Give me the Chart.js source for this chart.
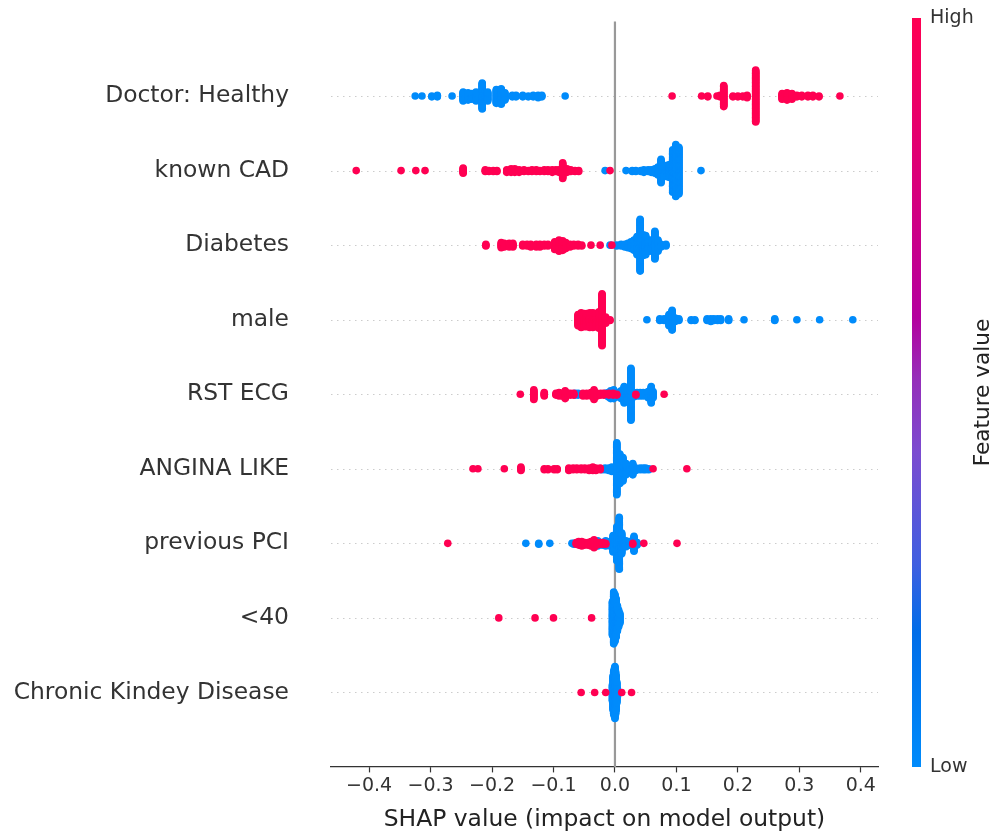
<!DOCTYPE html>
<html>
<head>
<meta charset="utf-8">
<script src="https://cdn.jsdelivr.net/npm/chart.js@4.4.1/dist/chart.umd.min.js"></script>
<style>
  html, body { margin: 0; padding: 0; background: #fff; }
  #wrap { width: 1003px; height: 834px; }
</style>
</head>
<body>
<div id="wrap"><canvas id="shap"></canvas></div>
<script>
const features = ["Doctor: Healthy", "known CAD", "Diabetes", "male", "RST ECG",
  "ANGINA LIKE", "previous PCI", "<40", "Chronic Kindey Disease"];
const xTicks = [-0.4, -0.3, -0.2, -0.1, 0.0, 0.1, 0.2, 0.3, 0.4];

// each entry: [shap value, number of samples, 1 = high feature value / 0 = low]
const doctorHealthy = [
  [-0.325, 1, 0], [-0.314, 1, 0], [-0.298, 2, 0], [-0.289, 3, 0], [-0.265, 1, 0],
  [-0.247, 12, 0], [-0.239, 10, 0], [-0.233, 8, 0], [-0.226, 12, 0], [-0.216, 33, 0],
  [-0.207, 12, 0], [-0.193, 18, 0], [-0.185, 20, 0], [-0.179, 10, 0], [-0.167, 3, 0],
  [-0.161, 3, 0], [-0.150, 3, 0], [-0.141, 2, 0], [-0.133, 3, 0], [-0.125, 4, 0],
  [-0.119, 3, 0], [-0.081, 1, 0],
  [0.093, 1, 1], [0.141, 1, 1], [0.151, 2, 1], [0.166, 1, 1], [0.171, 3, 1],
  [0.177, 27, 1], [0.192, 2, 1], [0.200, 2, 1], [0.208, 2, 1], [0.215, 4, 1],
  [0.229, 65, 1], [0.272, 8, 1], [0.280, 10, 1], [0.288, 8, 1], [0.296, 3, 1],
  [0.304, 3, 1], [0.314, 3, 1], [0.322, 3, 1], [0.332, 2, 1], [0.366, 1, 1]
];
const knownCad = [
  [-0.421, 1, 1], [-0.348, 1, 1], [-0.324, 1, 1], [-0.309, 1, 1], [-0.247, 7, 1],
  [-0.211, 3, 1], [-0.205, 2, 1], [-0.198, 2, 1], [-0.192, 2, 1], [-0.176, 4, 1],
  [-0.169, 5, 1], [-0.163, 5, 1], [-0.156, 4, 1], [-0.148, 3, 1], [-0.141, 2, 1],
  [-0.135, 3, 1], [-0.128, 3, 1], [-0.122, 2, 1], [-0.115, 3, 1], [-0.109, 3, 1],
  [-0.102, 4, 1], [-0.096, 3, 1], [-0.091, 4, 1], [-0.085, 19, 1], [-0.078, 5, 1],
  [-0.072, 3, 1], [-0.065, 2, 1], [-0.059, 2, 1], [-0.008, 1, 1],
  [-0.016, 1, 0], [0.018, 1, 0], [0.028, 2, 0], [0.034, 2, 0], [0.042, 2, 0],
  [0.047, 2, 0], [0.054, 3, 0], [0.059, 4, 0], [0.065, 6, 0], [0.070, 10, 0],
  [0.075, 18, 0], [0.080, 12, 0], [0.085, 14, 0], [0.089, 16, 0], [0.094, 50, 0],
  [0.099, 61, 0], [0.104, 55, 0], [0.140, 1, 0]
];
const diabetes = [
  [-0.210, 3, 1], [-0.185, 7, 1], [-0.180, 5, 1], [-0.172, 5, 1], [-0.166, 5, 1],
  [-0.150, 3, 1], [-0.143, 3, 1], [-0.137, 4, 1], [-0.128, 4, 1], [-0.122, 4, 1],
  [-0.115, 3, 1], [-0.109, 3, 1], [-0.098, 10, 1], [-0.091, 14, 1], [-0.085, 12, 1],
  [-0.080, 8, 1], [-0.073, 4, 1], [-0.067, 3, 1], [-0.060, 3, 1], [-0.054, 2, 1],
  [-0.039, 1, 1], [-0.024, 1, 1], [-0.005, 1, 1],
  [-0.008, 1, 0], [0.003, 2, 0], [0.010, 3, 0], [0.016, 4, 0], [0.021, 6, 0],
  [0.026, 9, 0], [0.031, 13, 0], [0.036, 22, 0], [0.041, 61, 0], [0.046, 25, 0],
  [0.050, 23, 0], [0.055, 14, 0], [0.060, 14, 0], [0.065, 33, 0], [0.070, 14, 0],
  [0.075, 4, 0], [0.083, 3, 0]
];
const male = [
  [-0.060, 14, 1], [-0.055, 18, 1], [-0.050, 16, 1], [-0.046, 16, 1], [-0.041, 18, 1],
  [-0.036, 18, 1], [-0.031, 16, 1], [-0.026, 20, 1], [-0.021, 61, 1], [-0.015, 8, 1],
  [-0.008, 2, 1],
  [0.052, 1, 0], [0.073, 3, 0], [0.080, 3, 0], [0.088, 14, 0], [0.093, 24, 0],
  [0.098, 5, 0], [0.104, 3, 0], [0.124, 2, 0], [0.130, 2, 0], [0.150, 3, 0],
  [0.156, 4, 0], [0.161, 3, 0], [0.167, 3, 0], [0.172, 3, 0], [0.185, 3, 0],
  [0.210, 1, 0], [0.260, 3, 0], [0.296, 1, 0], [0.333, 1, 0], [0.387, 1, 0]
];
const rstEcg = [
  [-0.154, 1, 1], [-0.132, 12, 1], [-0.115, 5, 1], [-0.096, 3, 1], [-0.091, 5, 1],
  [-0.086, 4, 1], [-0.081, 10, 1], [-0.076, 3, 1], [-0.072, 3, 1], [-0.067, 3, 1],
  [-0.052, 4, 1], [-0.046, 4, 1], [-0.039, 5, 1], [-0.034, 12, 1], [-0.029, 4, 1],
  [-0.023, 3, 1], [-0.018, 3, 1], [-0.010, 3, 1], [-0.003, 3, 1], [0.003, 2, 1],
  [0.034, 2, 1], [0.080, 1, 1],
  [-0.065, 3, 0], [-0.060, 3, 0], [-0.016, 3, 0], [-0.011, 6, 0], [-0.007, 10, 0],
  [-0.002, 8, 0], [0.005, 6, 0], [0.010, 10, 0], [0.015, 20, 0], [0.020, 16, 0],
  [0.026, 61, 0], [0.031, 6, 0], [0.036, 5, 0], [0.041, 5, 0], [0.046, 5, 0],
  [0.054, 8, 0], [0.059, 20, 0], [0.062, 8, 0]
];
const anginaLike = [
  [-0.231, 1, 1], [-0.223, 1, 1], [-0.180, 1, 1], [-0.153, 5, 1], [-0.115, 2, 1],
  [-0.109, 2, 1], [-0.099, 2, 1], [-0.094, 2, 1], [-0.075, 4, 1], [-0.068, 3, 1],
  [-0.062, 3, 1], [-0.055, 3, 1], [-0.049, 3, 1], [-0.042, 4, 1], [-0.036, 5, 1],
  [-0.031, 4, 1], [-0.024, 3, 1], [0.062, 1, 1], [0.117, 1, 1],
  [-0.021, 2, 0], [-0.016, 3, 0], [-0.010, 4, 0], [-0.005, 6, 0], [0.003, 61, 0],
  [0.008, 35, 0], [0.013, 28, 0], [0.018, 14, 0], [0.024, 5, 0], [0.029, 14, 0],
  [0.034, 4, 0], [0.041, 3, 0], [0.046, 3, 0], [0.050, 3, 0], [0.055, 2, 0]
];
const previousPci = [
  [-0.272, 1, 1], [-0.063, 3, 1], [-0.059, 5, 1], [-0.054, 6, 1], [-0.049, 4, 1],
  [-0.044, 4, 1], [-0.039, 6, 1], [-0.034, 10, 1], [-0.029, 4, 1], [-0.024, 3, 1],
  [-0.020, 3, 1], [-0.015, 2, 1], [0.029, 2, 1], [0.047, 1, 1], [0.101, 1, 1],
  [-0.145, 1, 0], [-0.124, 2, 0], [-0.106, 1, 0], [-0.070, 1, 0], [-0.067, 2, 0],
  [-0.028, 3, 0], [-0.021, 4, 0], [-0.015, 5, 0], [-0.008, 6, 0], [-0.003, 20, 0],
  [0.003, 40, 0], [0.007, 61, 0], [0.011, 25, 0], [0.018, 8, 0], [0.024, 5, 0],
  [0.031, 16, 0], [0.036, 4, 0]
];
const under40 = [
  [-0.189, 1, 1], [-0.130, 1, 1], [-0.100, 1, 1], [-0.038, 1, 1],
  [-0.004, 40, 0], [-0.002, 61, 0], [0.000, 55, 0], [0.002, 45, 0], [0.004, 30, 0],
  [0.006, 20, 0], [0.008, 12, 0]
];
const kidneyDisease = [
  [-0.055, 1, 1], [-0.033, 1, 1], [-0.015, 1, 1], [0.011, 1, 1], [0.027, 1, 1],
  [-0.004, 20, 0], [-0.003, 40, 0], [-0.002, 50, 0], [-0.001, 55, 0], [0.000, 61, 0],
  [0.001, 50, 0], [0.002, 40, 0], [0.003, 25, 0], [0.004, 10, 0]
];

const rows = [doctorHealthy, knownCad, diabetes, male, rstEcg, anginaLike, previousPci, under40, kidneyDisease];

const RED = "#ff0052";
const BLUE = "#008bfb";

// beeswarm layout the same way shap does it: 100 bins per row, stack alternately up and down
function swarm(vals) {
  let mn = Math.min(...vals), mx = Math.max(...vals);
  let quant = vals.map(v => Math.round(100 * (v - mn) / (mx - mn + 1e-8)));
  let inds = vals.map((v, i) => i).sort((a, b) => quant[a] - quant[b] || a - b);
  let ys = new Array(vals.length).fill(0);
  let layer = 0, lastBin = -1;
  for (let ind of inds) {
    if (quant[ind] !== lastBin) layer = 0;
    ys[ind] = Math.ceil(layer / 2) * ((layer % 2) * 2 - 1);
    layer++;
    lastBin = quant[ind];
  }
  let m = Math.max(...ys.map(y => y + 1));
  return ys.map(y => y * 0.9 * (0.4 / m));
}

let highPts = [], lowPts = [];
rows.forEach((clusters, r) => {
  let vals = [], flags = [];
  clusters.forEach(c => {
    for (let k = 0; k < c[1]; k++) { vals.push(c[0]); flags.push(c[2]); }
  });
  let ys = swarm(vals);
  vals.forEach((v, i) => (flags[i] ? highPts : lowPts).push({ x: v, y: r + ys[i] }));
});

// dotted row guides, zero line and the colour bar
const shapDecor = {
  id: "shapDecor",
  beforeDatasetsDraw(chart) {
    const { ctx, chartArea, scales } = chart;
    ctx.save();
    ctx.strokeStyle = "#cccccc";
    ctx.lineWidth = 1;
    ctx.setLineDash([1.5, 4.5]);
    features.forEach((f, i) => {
      let y = Math.round(scales.y.getPixelForValue(i)) + 0.5;
      ctx.beginPath();
      ctx.moveTo(chartArea.left, y);
      ctx.lineTo(chartArea.right, y);
      ctx.stroke();
    });
    ctx.setLineDash([]);
    let x0 = scales.x.getPixelForValue(0);
    ctx.strokeStyle = "#999999";
    ctx.lineWidth = 2.2;
    ctx.beginPath();
    ctx.moveTo(x0, chartArea.top);
    ctx.lineTo(x0, chartArea.bottom);
    ctx.stroke();
    ctx.restore();
  },
  afterDraw(chart) {
    const { ctx, chartArea } = chart;
    let left = chartArea.right + 34, w = 9;
    let top = chartArea.top - 3.5, bottom = chartArea.bottom;
    ctx.save();
    let g = ctx.createLinearGradient(0, bottom, 0, top);
    g.addColorStop(0, "rgb(0,139,251)");
    g.addColorStop(0.18, "rgb(0,109,232)");
    g.addColorStop(0.27, "rgb(63,95,224)");
    g.addColorStop(0.42, "rgb(123,75,208)");
    g.addColorStop(0.52, "rgb(150,45,185)");
    g.addColorStop(0.6, "rgb(180,0,158)");
    g.addColorStop(0.78, "rgb(217,0,122)");
    g.addColorStop(1, "rgb(255,0,82)");
    ctx.fillStyle = g;
    ctx.fillRect(left, top, w, bottom - top);
    ctx.fillStyle = "#333333";
    ctx.font = "19px 'DejaVu Sans'";
    ctx.textAlign = "left";
    ctx.textBaseline = "middle";
    ctx.fillText("High", left + 18, top);
    ctx.fillText("Low", left + 18, bottom);
    ctx.translate(left + 71, (top + bottom) / 2);
    ctx.rotate(-Math.PI / 2);
    ctx.textAlign = "center";
    ctx.fillStyle = "#222222";
    ctx.font = "21.6px 'DejaVu Sans'";
    ctx.fillText("Feature value", 0, 0);
    ctx.restore();
  }
};

Chart.defaults.font.family = "'DejaVu Sans'";

new Chart(document.getElementById("shap"), {
  type: "scatter",
  data: {
    datasets: [
      { label: "High", data: highPts, backgroundColor: RED, borderWidth: 0, pointRadius: 3.8 },
      { label: "Low", data: lowPts, backgroundColor: BLUE, borderWidth: 0, pointRadius: 3.8 }
    ]
  },
  options: {
    responsive: true,
    maintainAspectRatio: false,
    animation: false,
    devicePixelRatio: 1,
    layout: { padding: { left: 0, right: 125, top: 21.5, bottom: 0 } },
    plugins: {
      legend: { display: false },
      tooltip: { enabled: false }
    },
    scales: {
      x: {
        type: "linear",
        position: "bottom",
        min: -0.462,
        max: 0.428,
        afterBuildTicks: scale => { scale.ticks = xTicks.map(v => ({ value: v })); },
        afterFit: scale => {
          scale.height = 67;
          scale.paddingLeft = 0;
          scale.paddingRight = 0;
        },
        ticks: {
          autoSkip: false,
          maxRotation: 0,
          padding: 2,
          color: "#333333",
          font: { size: 19 },
          callback: v => v.toFixed(1).replace("-", "\u2212")
        },
        grid: { display: true, drawOnChartArea: false, drawTicks: true, tickLength: 5.4, tickWidth: 1.2, tickColor: "#333333" },
        border: { display: true, color: "#333333", width: 1.2 },
        title: {
          display: true,
          text: "SHAP value (impact on model output)",
          color: "#222222",
          font: { size: 23.4 },
          padding: { top: 0, bottom: 0 }
        }
      },
      y: {
        type: "linear",
        position: "left",
        min: -1,
        max: 9,
        reverse: true,
        afterBuildTicks: scale => { scale.ticks = features.map((f, i) => ({ value: i })); },
        afterFit: scale => {
          scale.width = 331;
          scale.paddingTop = 0;
          scale.paddingBottom = 0;
        },
        ticks: {
          autoSkip: false,
          padding: 42,
          color: "#333333",
          font: { size: 23.4 },
          callback: v => features[v]
        },
        grid: { display: false, drawTicks: false },
        border: { display: false }
      }
    }
  },
  plugins: [shapDecor]
});
</script>
</body>
</html>
